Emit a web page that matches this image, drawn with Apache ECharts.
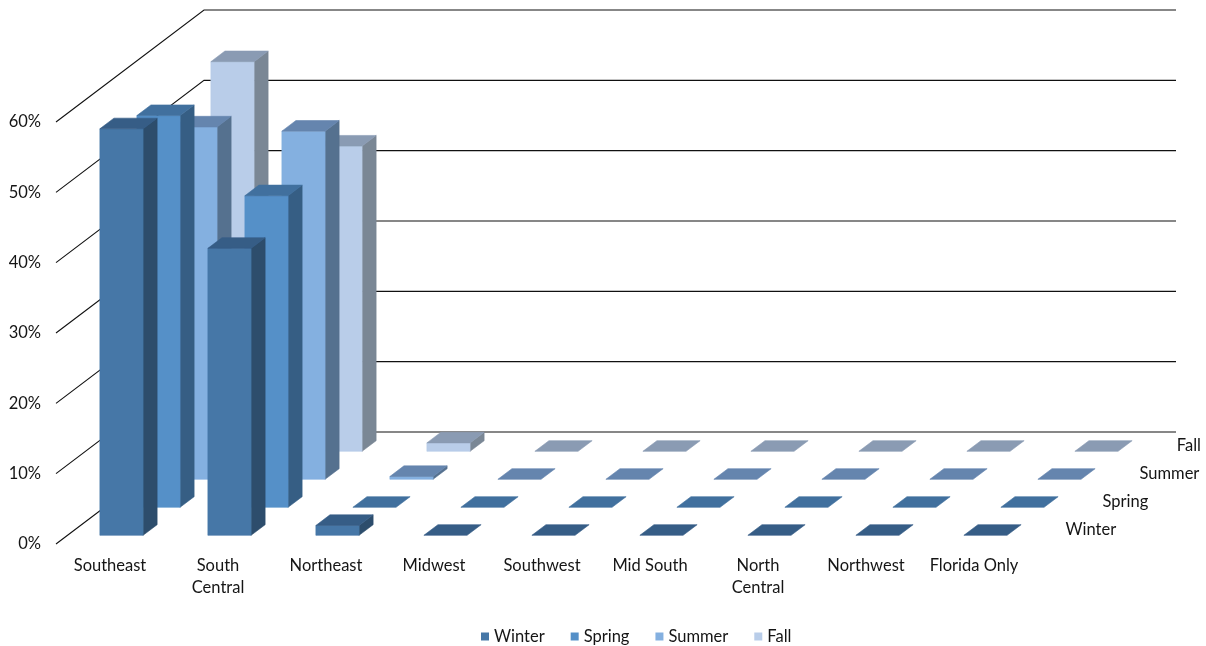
<!DOCTYPE html>
<html>
<head>
<meta charset="utf-8">
<script src="https://cdn.jsdelivr.net/npm/echarts@6/dist/echarts.min.js"></script>
<style>
html,body{margin:0;padding:0;background:#fff;}
#chart{width:1206px;height:646px;}
</style>
</head>
<body>
<div id="chart"></div>
<script>
// ---- data ----
const categories = ['Southeast', 'South\nCentral', 'Northeast', 'Midwest', 'Southwest', 'Mid South', 'North\nCentral', 'Northwest', 'Florida Only'];
const seasons = ['Winter', 'Spring', 'Summer', 'Fall'];
const winter = [57.8, 40.8, 1.4, 0, 0, 0, 0, 0, 0];
const spring = [55.7, 44.3, 0, 0, 0, 0, 0, 0, 0];
const summer = [50.1, 49.5, 0.4, 0, 0, 0, 0, 0, 0];
const fall = [55.4, 43.4, 1.2, 0, 0, 0, 0, 0, 0];
const yTicks = [0, 10, 20, 30, 40, 50, 60];

// ---- styling / projection constants ----
const seasonValues = [winter, spring, summer, fall];
const faceColors = [
  { front: '#4677a7', top: '#365d86', side: '#2d4d6c' },
  { front: '#5590c8', top: '#41709e', side: '#365e84' },
  { front: '#84b0e0', top: '#6585ae', side: '#55718f' },
  { front: '#b9cde9', top: '#8a9bb3', side: '#7a8795' }
];
const DX = 148, DY = -112;          // full depth vector (front -> back)
const ROW = 0.25;                   // depth fraction per series row
const BAR = 0.095;                  // bar depth fraction
const GAP = (ROW - BAR) / 2;
const BAR_W = 0.4;                  // bar width fraction of band
const FSIZE = 16.5;
const FONT = FSIZE + 'px Lato';
const TXT = '#151515';

const chart = echarts.init(document.getElementById('chart'));

function poly(points, color) {
  return { type: 'polygon', shape: { points: points }, style: { fill: color, stroke: color, lineWidth: 0.6 } };
}

function barSeries(k) {
  const c = faceColors[k];
  return {
    type: 'custom',
    name: seasons[k],
    z: 10 - k,
    silent: true,
    clip: false,
    itemStyle: { color: c.front },
    encode: { x: 0, y: 1 },
    data: seasonValues[k].map((v, i) => [i, v]),
    renderItem: function (params, api) {
      const ci = api.value(0), v = api.value(1);
      const topPt = api.coord([ci, v]);
      const basePt = api.coord([ci, 0]);
      const bw = api.size([1, 0])[0] * BAR_W;
      const d = k * ROW + GAP;
      const fx = d * DX, fy = d * DY;
      const bx = BAR * DX, by = BAR * DY;
      const x0 = topPt[0] - bw / 2 + fx, x1 = topPt[0] + bw / 2 + fx;
      const yt = topPt[1] + fy, yb = basePt[1] + fy;
      const children = [];
      if (yb - yt > 0.2) {
        children.push(poly([[x1, yt], [x1 + bx, yt + by], [x1 + bx, yb + by], [x1, yb]], c.side));
        children.push(poly([[x0, yt], [x1, yt], [x1, yb], [x0, yb]], c.front));
      }
      children.push(poly([[x0, yt], [x1, yt], [x1 + bx, yt + by], [x0 + bx, yt + by]], c.top));
      return { type: 'group', children: children };
    }
  };
}

const gridSeries = {
  type: 'custom',
  name: 'walls',
  z: 1,
  silent: true,
  clip: false,
  encode: { x: 0, y: 1 },
  data: yTicks.map(t => [0, t]),
  renderItem: function (params, api) {
    const cs = params.coordSys;
    const y = api.coord([0, api.value(1)])[1];
    const lx = cs.x, rx = cs.x + cs.width;
    return {
      type: 'polyline',
      shape: { points: [[lx, y], [lx + DX, y + DY], [rx + DX, y + DY]] },
      style: { stroke: '#111111', lineWidth: 1.1, fill: null }
    };
  }
};

const depthLabelSeries = {
  type: 'custom',
  name: 'depthLabels',
  z: 1,
  silent: true,
  clip: false,
  encode: { x: 0, y: 1 },
  data: seasons.map((s, k) => [categories.length - 1, 0, k]),
  renderItem: function (params, api) {
    const cs = params.coordSys;
    const k = api.value(2);
    const base = api.coord([api.value(0), 0]);
    const d = k * ROW + ROW / 2;
    let x = cs.x + cs.width + d * DX + 19;
    const y = base[1] + d * DY;
    const w = seasons[k].length * 8.7;
    let align = 'left';
    if (x + w > 1201) { x = 1201; align = 'right'; }
    return {
      type: 'text',
      style: { text: seasons[k], x: x, y: y, fill: TXT, font: FONT, align: align, verticalAlign: 'middle' }
    };
  }
};

const option = {
  animation: false,
  backgroundColor: '#ffffff',
  grid: { left: 56, top: 122, width: 972, height: 422, containLabel: false },
  legend: {
    data: seasons,
    left: 476,
    top: 623,
    itemWidth: 8,
    itemHeight: 8,
    itemGap: 26,
    icon: 'rect',
    textStyle: { fontFamily: 'Lato', fontSize: FSIZE, color: TXT },
    selectedMode: false
  },
  xAxis: {
    type: 'category',
    data: categories,
    boundaryGap: true,
    axisLine: { show: false },
    axisTick: { show: false },
    splitLine: { show: false },
    axisLabel: { interval: 0, margin: 11, fontFamily: 'Lato', fontSize: FSIZE, color: TXT, lineHeight: 22 }
  },
  yAxis: {
    type: 'value',
    min: 0,
    max: 60,
    interval: 10,
    axisLine: { show: false },
    axisTick: { show: false },
    splitLine: { show: false },
    axisLabel: { margin: 15, formatter: '{value}%', fontFamily: 'Lato', fontSize: FSIZE, color: TXT }
  },
  series: [gridSeries, depthLabelSeries, barSeries(0), barSeries(1), barSeries(2), barSeries(3)]
};

chart.setOption(option);
</script>
</body>
</html>
